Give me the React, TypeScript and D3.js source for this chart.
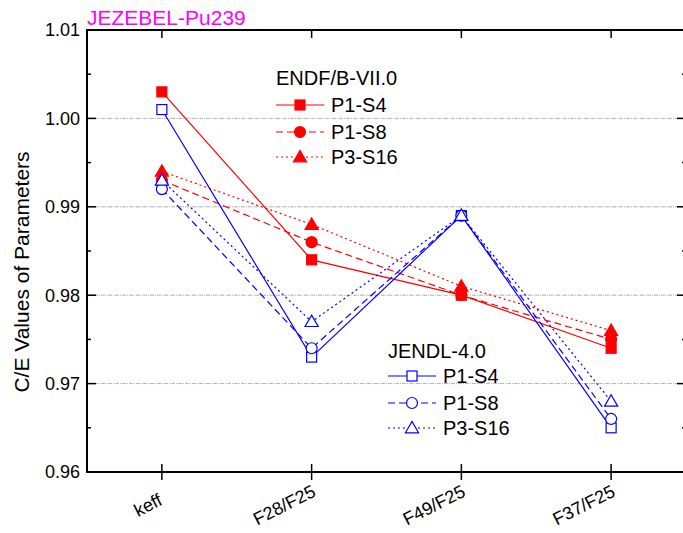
import React, { useEffect, useRef } from 'react';
import * as d3 from 'd3';

const categories = ['keff', 'F28/F25', 'F49/F25', 'F37/F25'];
const yTicks = [0.96, 0.97, 0.98, 0.99, 1.0, 1.01];

const endfP1S4 = [1.003, 0.984, 0.98, 0.974];
const endfP1S8 = [0.993, 0.986, 0.98, 0.975];
const endfP3S16 = [0.994, 0.988, 0.981, 0.976];
const jendlP1S4 = [1.001, 0.973, 0.989, 0.965];
const jendlP1S8 = [0.992, 0.974, 0.989, 0.966];
const jendlP3S16 = [0.993, 0.977, 0.989, 0.968];

const FONT = '"Liberation Sans", Arial, sans-serif';

interface Series {
  name: string;
  values: number[];
  color: string;
  dash: string;
  marker: 'square' | 'circle' | 'triangle';
  filled: boolean;
}

const endfSeries: Series[] = [
  { name: 'P1-S4', values: endfP1S4, color: '#ff0000', dash: '', marker: 'square', filled: true },
  { name: 'P1-S8', values: endfP1S8, color: '#ff0000', dash: '7,4', marker: 'circle', filled: true },
  { name: 'P3-S16', values: endfP3S16, color: '#ff0000', dash: '2,3', marker: 'triangle', filled: true },
];

const jendlSeries: Series[] = [
  { name: 'P1-S4', values: jendlP1S4, color: '#0000ff', dash: '', marker: 'square', filled: false },
  { name: 'P1-S8', values: jendlP1S8, color: '#0000ff', dash: '7,4', marker: 'circle', filled: false },
  { name: 'P3-S16', values: jendlP3S16, color: '#0000ff', dash: '2,3', marker: 'triangle', filled: false },
];

const App: React.FC = () => {
  const svgRef = useRef<SVGSVGElement>(null);

  useEffect(() => {
    if (!svgRef.current) return;
    const svg = d3.select(svgRef.current);
    svg.selectAll('*').remove();

    const width = 683;
    const height = 533;
    const margin = { top: 30, right: -3, bottom: 61, left: 87 };
    const x0 = margin.left;
    const x1 = width - margin.right;
    const y0 = height - margin.bottom;
    const y1 = margin.top;

    const xScale = d3.scalePoint<string>()
      .domain(categories)
      .range([x0, x1])
      .padding(0.5);

    const yScale = d3.scaleLinear()
      .domain([0.96, 1.01])
      .range([y0, y1]);

    svg.attr('width', width).attr('height', height);

    // grid lines
    svg.append('g')
      .selectAll('line')
      .data(yTicks.filter(t => t > 0.96 && t < 1.01))
      .enter()
      .append('line')
      .attr('x1', x0)
      .attr('x2', x1)
      .attr('y1', d => yScale(d))
      .attr('y2', d => yScale(d))
      .attr('stroke', '#b0b0b0')
      .attr('stroke-width', 1)
      .attr('stroke-dasharray', '4,1,1,1');

    // ticks (left + right, top + bottom)
    const minor = d3.range(0, 5).map(i => 0.965 + i * 0.01);
    const axes = svg.append('g').attr('stroke', '#000');
    minor.forEach(t => {
      axes.append('line').attr('x1', x0).attr('x2', x0 + 4).attr('y1', yScale(t)).attr('y2', yScale(t)).attr('stroke-width', 1.5);
      axes.append('line').attr('x1', x1).attr('x2', x1 - 4).attr('y1', yScale(t)).attr('y2', yScale(t)).attr('stroke-width', 1.5);
    });
    yTicks.forEach(t => {
      axes.append('line').attr('x1', x0).attr('x2', x0 + 9).attr('y1', yScale(t)).attr('y2', yScale(t)).attr('stroke-width', 1.5);
      axes.append('line').attr('x1', x1).attr('x2', x1 - 9).attr('y1', yScale(t)).attr('y2', yScale(t)).attr('stroke-width', 1.5);
    });
    categories.forEach(c => {
      const cx = xScale(c)!;
      axes.append('line').attr('x1', cx).attr('x2', cx).attr('y1', y0 - 8).attr('y2', y0 + 8).attr('stroke-width', 1.5);
      axes.append('line').attr('x1', cx).attr('x2', cx).attr('y1', y1).attr('y2', y1 + 8).attr('stroke-width', 1.5);
    });

    // frame
    svg.append('rect')
      .attr('x', x0)
      .attr('y', y1)
      .attr('width', x1 - x0)
      .attr('height', y0 - y1)
      .attr('fill', 'none')
      .attr('stroke', '#000')
      .attr('stroke-width', 2);

    // y tick labels
    svg.append('g')
      .selectAll('text')
      .data(yTicks)
      .enter()
      .append('text')
      .attr('x', x0 - 7)
      .attr('y', d => yScale(d))
      .attr('dy', '0.35em')
      .attr('text-anchor', 'end')
      .attr('font-family', FONT)
      .attr('font-size', '18px')
      .attr('fill', '#000')
      .text(d => d3.format('.2f')(d));

    // x tick labels (rotated)
    svg.append('g')
      .selectAll('text')
      .data(categories)
      .enter()
      .append('text')
      .attr('text-anchor', 'middle')
      .attr('dy', '0.35em')
      .attr('font-family', FONT)
      .attr('font-size', '18px')
      .attr('fill', '#000')
      .text(d => d)
      .each(function (d) {
        const len = (this as SVGTextElement).getComputedTextLength();
        const cx = xScale(d)! - 4 - 0.35 * len;
        d3.select(this).attr('transform', `translate(${cx},${y0 + 33}) rotate(-27)`);
      });

    // y title
    svg.append('text')
      .attr('transform', `translate(29,${(y0 + y1) / 2 + 21}) rotate(-90)`)
      .attr('text-anchor', 'middle')
      .attr('font-family', FONT)
      .attr('font-size', '21px')
      .attr('fill', '#000')
      .text('C/E Values of Parameters');

    // title
    svg.append('text')
      .attr('x', x0)
      .attr('y', 25)
      .attr('font-family', FONT)
      .attr('font-size', '21px')
      .attr('fill', '#ff00ff')
      .text('JEZEBEL-Pu239');

    const drawMarker = (g: d3.Selection<SVGGElement, unknown, null, undefined>, s: Series, cx: number, cy: number) => {
      const fill = s.filled ? s.color : '#fff';
      if (s.marker === 'square') {
        g.append('rect')
          .attr('x', cx - 5).attr('y', cy - 5)
          .attr('width', 10).attr('height', 10)
          .attr('fill', fill).attr('stroke', s.color).attr('stroke-width', 1.2);
      } else if (s.marker === 'circle') {
        g.append('circle')
          .attr('cx', cx).attr('cy', cy).attr('r', 5.5)
          .attr('fill', fill).attr('stroke', s.color).attr('stroke-width', 1.2);
      } else {
        const tri = d3.symbol().type(d3.symbolTriangle).size(75);
        g.append('path')
          .attr('d', tri()!)
          .attr('transform', `translate(${cx},${cy + 1})`)
          .attr('fill', fill).attr('stroke', s.color).attr('stroke-width', 1.2);
      }
    };

    const line = d3.line<number>()
      .x((_, i) => xScale(categories[i])!)
      .y(d => yScale(d));

    const drawSeries = (list: Series[]) => {
      const g = svg.append('g');
      list.forEach(s => {
        g.append('path')
          .datum(s.values)
          .attr('d', line)
          .attr('fill', 'none')
          .attr('stroke', s.color)
          .attr('stroke-width', 1.2)
          .attr('stroke-dasharray', s.dash || null);
      });
      list.forEach(s => {
        s.values.forEach((v, i) => drawMarker(g, s, xScale(categories[i])!, yScale(v)));
      });
    };

    drawSeries(endfSeries);
    drawSeries(jendlSeries);

    // legends
    const drawLegend = (list: Series[], title: string, lx: number, ty: number, rowY: number[]) => {
      const g = svg.append('g');
      g.append('text')
        .attr('x', lx)
        .attr('y', ty)
        .attr('dy', '0.35em')
        .attr('font-family', FONT)
        .attr('font-size', '20px')
        .attr('fill', '#000')
        .text(title);
      list.forEach((s, i) => {
        const yy = rowY[i];
        g.append('line')
          .attr('x1', lx).attr('x2', lx + 48)
          .attr('y1', yy).attr('y2', yy)
          .attr('stroke', s.color)
          .attr('stroke-width', 1.2)
          .attr('stroke-dasharray', s.dash || null);
        drawMarker(g as any, s, lx + 24, yy);
        g.append('text')
          .attr('x', lx + 55)
          .attr('y', yy)
          .attr('dy', '0.35em')
          .attr('font-family', FONT)
          .attr('font-size', '20px')
          .attr('fill', '#000')
          .text(s.name);
      });
    };

    drawLegend(endfSeries, 'ENDF/B-VII.0', 276, 78, [105, 132, 157]);
    drawLegend(jendlSeries, 'JENDL-4.0', 388, 351, [376, 403, 428]);
  }, []);

  return (
    <div style={{ position: 'absolute', left: 0, top: 0, background: '#fff' }}>
      <svg ref={svgRef} style={{ display: 'block' }}></svg>
    </div>
  );
};

export default App;
